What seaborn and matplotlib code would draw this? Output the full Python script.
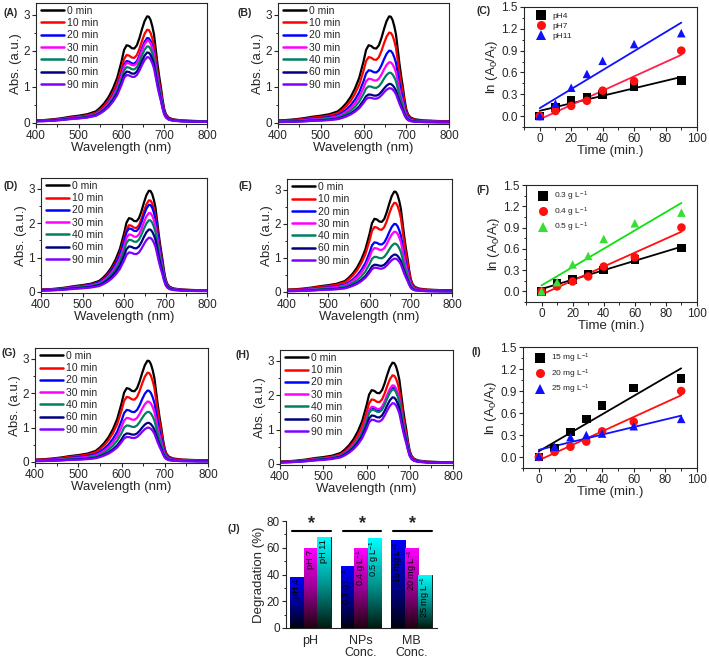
import numpy as np
import pandas as pd
import matplotlib
matplotlib.use("Agg")
import matplotlib.pyplot as plt
from matplotlib.lines import Line2D
from matplotlib.colors import LinearSegmentedColormap, to_rgb
from matplotlib.ticker import MultipleLocator
import seaborn as sns

sns.set_style("ticks")
plt.rcParams['font.family'] = ['Liberation Sans', 'DejaVu Sans']
plt.rcParams['mathtext.fontset'] = 'custom'
plt.rcParams['mathtext.rm'] = 'Liberation Sans'
plt.rcParams['mathtext.it'] = 'Liberation Sans:italic'
plt.rcParams['axes.linewidth'] = 0.8

# ---------------- data ----------------
times = ["0 min", "10 min", "20 min", "30 min", "40 min", "60 min", "90 min"]
time_colors = ["#000000", "#ff0000", "#0000ff", "#ff00ff", "#008060", "#000080", "#8000ff"]

# 0-min spectrum of methylene blue
wavelength = [400, 420, 440, 460, 480, 500, 520, 540, 550, 560, 570, 580, 590, 600, 606,
              612, 618, 624, 630, 636, 642, 648, 654, 660, 664, 668, 672, 676, 680, 684,
              688, 692, 696, 700, 704, 710, 720, 740, 760, 780, 800]
abs_0min = [0.07, 0.08, 0.10, 0.13, 0.17, 0.20, 0.24, 0.32, 0.42, 0.55, 0.72, 0.95, 1.25, 1.70, 2.02,
            2.15, 2.13, 2.07, 2.06, 2.15, 2.35, 2.60, 2.82, 2.95, 2.94, 2.85, 2.68, 2.45, 2.05, 1.65,
            1.30, 1.00, 0.65, 0.38, 0.24, 0.15, 0.10, 0.07, 0.06, 0.05, 0.05]

# peak absorbance (664 nm) of each curve, per panel
peaks_A = [2.95, 2.58, 2.35, 2.28, 2.12, 1.95, 1.82]
peaks_B = [2.95, 2.50, 2.00, 1.68, 1.39, 1.08, 0.96]
peaks_D = [2.95, 2.67, 2.54, 2.30, 2.09, 1.82, 1.58]
peaks_E = [2.95, 2.62, 2.00, 1.77, 1.42, 1.10, 0.98]
peaks_G = [2.95, 2.60, 2.08, 1.76, 1.46, 1.14, 1.00]
peaks_H = [2.95, 2.58, 2.22, 2.29, 2.17, 1.94, 1.77]

kin_time = [0, 10, 20, 30, 40, 60, 90]
# panel C (pH)
c_pH4 = [0.00, 0.12, 0.22, 0.26, 0.30, 0.41, 0.49]
c_pH7 = [0.00, 0.07, 0.14, 0.21, 0.35, 0.48, 0.90]
c_pH11 = [0.00, 0.17, 0.39, 0.58, 0.76, 0.99, 1.14]
# panel F (catalyst dose)
f_03 = [0.00, 0.12, 0.165, 0.245, 0.30, 0.45, 0.61]
f_04 = [0.00, 0.07, 0.14, 0.21, 0.35, 0.48, 0.90]
f_05 = [0.00, 0.13, 0.38, 0.50, 0.74, 0.96, 1.11]
# panel I (MB concentration)
i_15 = [0.00, 0.12, 0.34, 0.52, 0.70, 0.94, 1.07]
i_20 = [0.00, 0.07, 0.14, 0.21, 0.35, 0.48, 0.90]
i_25 = [0.01, 0.14, 0.27, 0.30, 0.32, 0.42, 0.52]

# panel J
groups = ["pH", "NPs\nConc.", "MB\nConc."]
levels = ["low", "mid", "high"]
degradation = [[38, 60, 68], [46, 60, 67], [66, 60, 40]]
bar_labels = [["pH 4", "pH 7", "pH 11"],
              ["0.3 g L$^{-1}$", "0.4 g L$^{-1}$", "0.5 g L$^{-1}$"],
              ["15 mg L$^{-1}$", "20 mg L$^{-1}$", "25 mg L$^{-1}$"]]
bar_colors = ["#0000ff", "#ff00ff", "#00ffff"]
bar_dark = ["#000010", "#200010", "#001a10"]

# ---------------- figure ----------------
W, H = 709, 660
fig = plt.figure(figsize=(W / 100, H / 100), dpi=100)


def add_ax(l, t, r, b):
    return fig.add_axes([l / W, 1 - b / H, (r - l) / W, (b - t) / H])


def style(ax):
    ax.tick_params(direction='out', length=3, width=0.8, labelsize=8.5, pad=1.5)
    ax.tick_params(which='minor', direction='out', length=1.8, width=0.7)
    for s in ax.spines.values():
        s.set_visible(True)
        s.set_linewidth(0.8)


def spectrum(ax, peaks):
    rows = []
    for t, p in zip(times, peaks):
        for w, a in zip(wavelength, abs_0min):
            rows.append((w, a * p / 2.95, t))
    df = pd.DataFrame(rows, columns=["wl", "abs", "time"])
    sns.lineplot(data=df, x="wl", y="abs", hue="time", palette=time_colors,
                 estimator=None, lw=1.6, legend=False, ax=ax)
    ax.set_xlim(400, 800)
    ax.set_ylim(-0.03, 3.32)
    ax.xaxis.set_major_locator(MultipleLocator(100))
    ax.xaxis.set_minor_locator(MultipleLocator(50))
    ax.yaxis.set_major_locator(MultipleLocator(1))
    ax.yaxis.set_minor_locator(MultipleLocator(0.5))
    ax.set_xlabel("Wavelength (nm)", fontsize=9.5, labelpad=0)
    ax.set_ylabel("Abs. (a.u.)", fontsize=9.5, labelpad=1)
    style(ax)
    handles = [Line2D([], [], color=c, lw=1.8) for c in time_colors]
    ax.legend(handles, times, loc='upper left', bbox_to_anchor=(0.0, 1.02), frameon=False,
              fontsize=7.5, handlelength=2.2, handletextpad=0.25, labelspacing=0.22,
              borderaxespad=0.1)


def kinetics(ax, series, labels, colors, line_colors, top=1.5):
    rows = []
    for s, lab in zip(series, labels):
        for t, v in zip(kin_time, s):
            rows.append((t, v, lab))
    df = pd.DataFrame(rows, columns=["t", "v", "lab"])
    for s, lc in zip(series, line_colors):
        sns.regplot(x=kin_time, y=s, scatter=False, ci=None, truncate=True,
                    line_kws={'lw': 1.3, 'color': lc}, ax=ax)
    sns.scatterplot(data=df, x="t", y="v", hue="lab", style="lab", palette=colors,
                    markers=['s', 'o', '^'], s=38, edgecolor='none', legend=False, ax=ax, zorder=3)
    ax.set_xlim(-10, 100)
    ax.set_ylim(-0.15, top)
    ax.xaxis.set_major_locator(MultipleLocator(20))
    ax.xaxis.set_minor_locator(MultipleLocator(10))
    ax.yaxis.set_major_locator(MultipleLocator(0.3))
    ax.yaxis.set_minor_locator(MultipleLocator(0.15))
    ax.yaxis.set_major_formatter(matplotlib.ticker.FormatStrFormatter('%.1f'))
    ax.set_xlabel("Time (min.)", fontsize=9.5, labelpad=0)
    ax.set_ylabel("ln (A$_0$/A$_t$)", fontsize=9.5, labelpad=1)
    style(ax)
    handles = [Line2D([], [], color=c, marker=m, ls='none', markersize=6.5, markeredgewidth=0)
               for c, m in zip(colors, ['s', 'o', '^'])]
    ax.legend(handles, labels, loc='upper left', bbox_to_anchor=(0.02, 1.0), frameon=False,
              fontsize=6, handletextpad=0.4, labelspacing=0.25, borderaxespad=0.2)


axA = add_ax(36, 3, 207, 124)
spectrum(axA, peaks_A)
axB = add_ax(278, 3, 449, 124)
spectrum(axB, peaks_B)
axC = add_ax(524, 7, 697, 127)
kinetics(axC, [c_pH4, c_pH7, c_pH11], ["pH4", "pH7", "pH11"],
         ["#000000", "#ff1010", "#1010ff"], ["#000000", "#ff2050", "#1010ff"])

axD = add_ax(41, 178, 207, 293)
spectrum(axD, peaks_D)
axE = add_ax(287, 179, 452, 293)
spectrum(axE, peaks_E)
axF = add_ax(526, 185, 697, 302)
kinetics(axF, [f_03, f_04, f_05], ["0.3 g L$^{-1}$", "0.4 g L$^{-1}$", "0.5 g L$^{-1}$"],
         ["#000000", "#ff1010", "#33e033"], ["#000000", "#ff1010", "#10e010"])

axG = add_ax(35, 348, 208, 463)
spectrum(axG, peaks_G)
axH = add_ax(280, 350, 453, 465)
spectrum(axH, peaks_H)
axI = add_ax(523, 347, 697, 468)
kinetics(axI, [i_15, i_20, i_25], ["15 mg L$^{-1}$", "20 mg L$^{-1}$", "25 mg L$^{-1}$"],
         ["#000000", "#ff1010", "#1010ff"], ["#000000", "#ff1010", "#1010ff"])

# ---------------- panel J ----------------
axJ = add_ax(286, 521, 437, 628)
rows = []
for g, vals in zip(groups, degradation):
    for lv, v in zip(levels, vals):
        rows.append((g, lv, v))
dfJ = pd.DataFrame(rows, columns=["group", "level", "deg"])
sns.barplot(data=dfJ, x="group", y="deg", hue="level", palette=bar_colors,
            edgecolor='black', linewidth=0.6, legend=False, ax=axJ, width=0.8)
axJ.set_xlim(-0.48, 2.5)
axJ.set_ylim(0, 80)
axJ.yaxis.set_major_locator(MultipleLocator(20))
axJ.yaxis.set_minor_locator(MultipleLocator(10))
axJ.set_xlabel("")
axJ.set_ylabel("Degradation (%)", fontsize=9.5, labelpad=1)
style(axJ)
axJ.tick_params(axis='x', length=0, pad=5, labelsize=9)
for lab in axJ.get_xticklabels():
    lab.set_linespacing(1.05)
axJ.spines['top'].set_visible(False)
axJ.spines['right'].set_visible(False)

for p in list(axJ.patches):
    x0, w, h = p.get_x(), p.get_width(), p.get_height()
    if h <= 0:
        continue
    cx = x0 + w / 2
    gi = int(round(cx))
    li = int(round((cx - gi) / w)) + 1
    top_c = np.array(to_rgb(bar_colors[li]))
    bot_c = np.array(to_rgb(bar_dark[li]))
    cmap = LinearSegmentedColormap.from_list("g", [bot_c, top_c * 0.55 + bot_c * 0.45, top_c])
    grad = np.linspace(0, 1, 256).reshape(-1, 1)
    im = axJ.imshow(grad, cmap=cmap, aspect='auto', origin='lower',
                    extent=(x0, x0 + w, 0, h), zorder=p.get_zorder() + 0.1)
    im.set_clip_path(p)
    axJ.text(cx, h - 1.2, bar_labels[gi][li], rotation=90, ha='center', va='top',
             fontsize=6.6, color='black', zorder=5)
axJ.set_xlim(-0.48, 2.5)
axJ.set_ylim(0, 80)
for gi in range(3):
    axJ.plot([gi - 0.36, gi + 0.4], [72.5, 72.5], color='black', lw=1.5, zorder=6)
    axJ.text(gi + 0.02, 72, "*", ha='center', va='bottom', fontsize=13, fontweight='bold')

# panel letters
letters = [("(A)", 3, 13), ("(B)", 238, 13), ("(C)", 477, 11),
           ("(D)", 4, 186), ("(E)", 239, 186), ("(F)", 477, 190),
           ("(G)", 1, 353), ("(H)", 236, 355), ("(I)", 471, 352), ("(J)", 227, 529)]
for t, x, y in letters:
    fig.text(x / W, 1 - y / H, t, fontsize=7.5, fontweight='bold', ha='left', va='center')

fig.savefig("out.png", dpi=100)
